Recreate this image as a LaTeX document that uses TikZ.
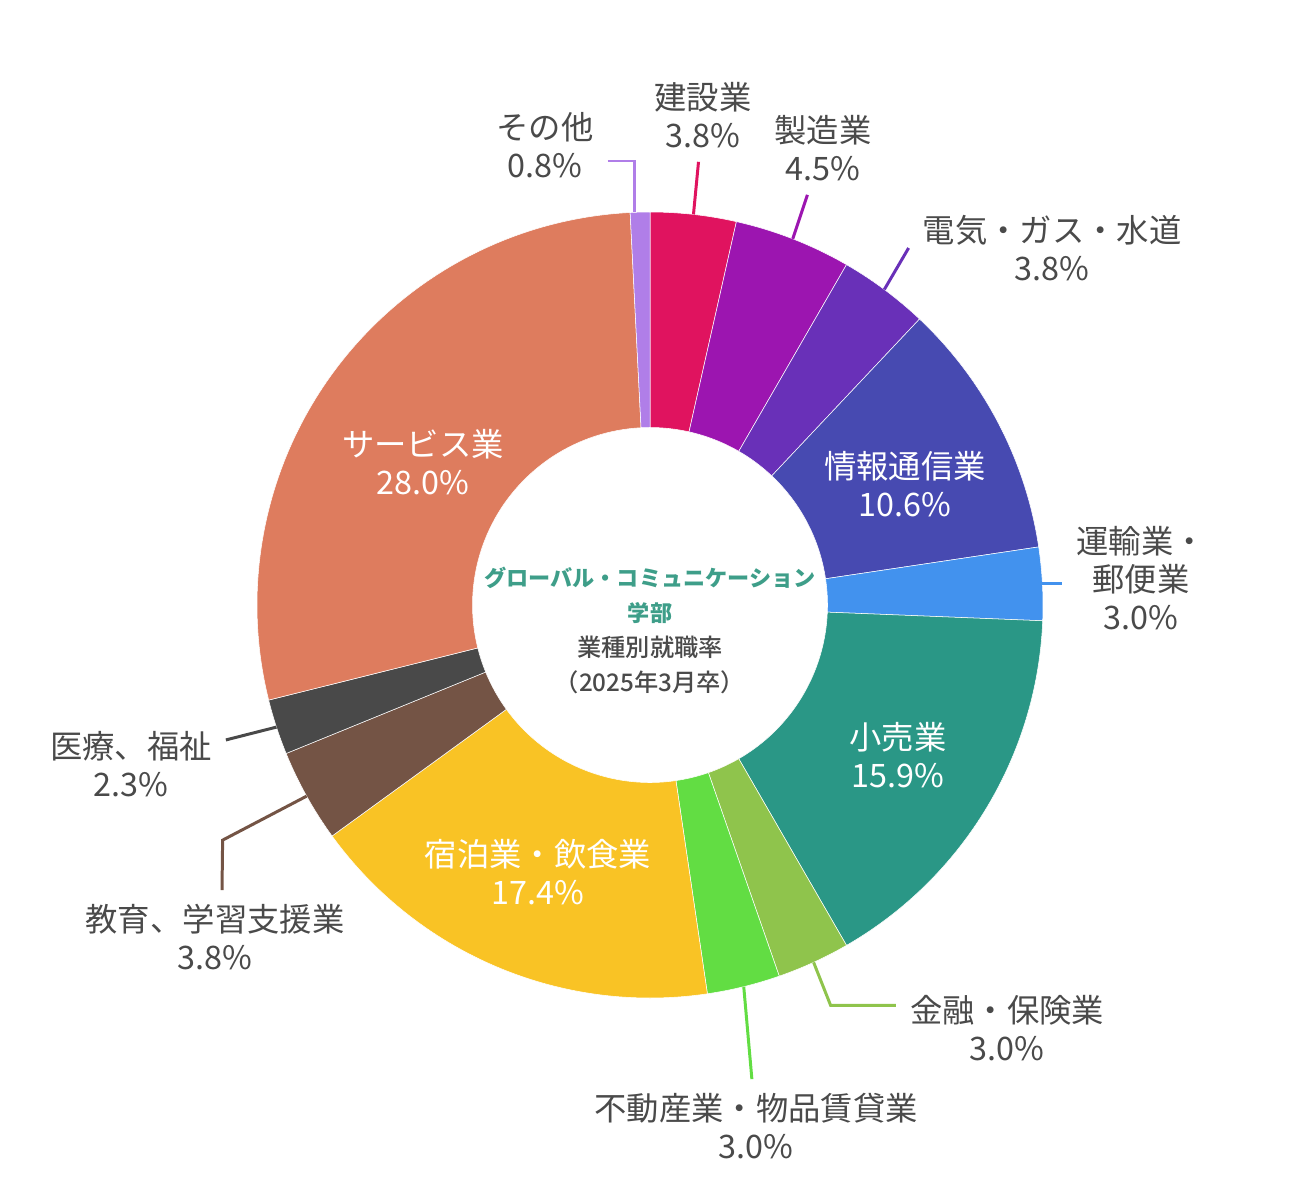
\documentclass[tikz,border=0pt]{standalone}
\usepackage{fontspec}
\setmainfont{Noto Sans CJK JP}
\newfontfamily\medfont{Noto Sans CJK JP Medium}
\usetikzlibrary{calc,positioning}

\definecolor{kensetsu}{HTML}{E0135F}
\definecolor{seizo}{HTML}{9C15B0}
\definecolor{denki}{HTML}{6930B8}
\definecolor{joho}{HTML}{474AB1}
\definecolor{unyu}{HTML}{4292EE}
\definecolor{kouri}{HTML}{2A9786}
\definecolor{kinyu}{HTML}{8FC44C}
\definecolor{fudosan}{HTML}{62DD43}
\definecolor{shukuhaku}{HTML}{F9C325}
\definecolor{kyoiku}{HTML}{745445}
\definecolor{iryo}{HTML}{494949}
\definecolor{service}{HTML}{DE7C5E}
\definecolor{sonota}{HTML}{B07EE8}
\definecolor{labelgray}{HTML}{4A4A4A}
\definecolor{titleteal}{HTML}{3E9E89}

\begin{document}
\begin{tikzpicture}[
lbl/.style={text=labelgray,align=center,font=\fontsize{9.2}{10.8}\selectfont,inner sep=1pt,outer sep=3pt},
inlbl/.style={text=white,align=center,font=\fontsize{9.2}{10.8}\selectfont,inner sep=1pt},
leader/.style={line width=0.85pt}]

        \useasboundingbox (0,0) rectangle (13,12);
        \coordinate (O) at (6.5,5.95);
        \def\R{3.93}
        \def\r{1.775}

        % ring
        \foreach \a/\b/\c in {0/12.7/kensetsu,12.7/30/seizo,30/43.3/denki,43.3/81.5/joho,81.5/92.3/unyu,92.3/150/kouri,150/160.8/kinyu,160.8/171.6/fudosan,171.6/234/shukuhaku,234/247.8/kyoiku,247.8/256/iryo,256/357.1/service,357.1/360/sonota}
            \fill[\c,draw=white,line width=0.15pt] ($(O)+(90-\a:\R)$) arc[start angle=90-\a,end angle=90-\b,radius=\R]
                -- ($(O)+(90-\b:\r)$) arc[start angle=90-\b,end angle=90-\a,radius=\r] -- cycle;

        \foreach \n/\m in {kensetsu/6.35,seizo/21.3,denki/36.6,unyu/86.9,kinyu/155.4,fudosan/166.2,kyoiku/240.9,iryo/251.9,sonota/357.8}
            \coordinate (p-\n) at ($(O)+(90-\m:\R)$);

        % centre
        \node [align=center,text=titleteal,font=\fontsize{6.3}{10}\selectfont\bfseries,inner sep=0pt] (title) at (6.5,6.05) {グローバル・コミュニケーション\\学部};
        \node [align=center,text=labelgray,font=\medfont\fontsize{6.9}{10}\selectfont,inner sep=0pt] (sub) at (6.5,5.35) {業種別就職率\\（2025年3月卒）};

        % inside
        \node [inlbl] (service-t) at (4.23,7.38) {サービス業\\28.0\%};
        \node [inlbl] (joho-t) at (9.05,7.16) {情報通信業\\10.6\%};
        \node [inlbl] (kouri-t) at (8.98,4.45) {小売業\\15.9\%};
        \node [inlbl] (shukuhaku-t) at (5.38,3.28) {宿泊業・飲食業\\17.4\%};

        % outside
        \node [lbl] (kensetsu) at (7.03,10.85) {建設業\\3.8\%};
        \node [lbl] (seizo) at (8.23,10.52) {製造業\\4.5\%};
        \node [lbl] (denki) at (10.52,9.52) {電気・ガス・水道\\3.8\%};
        \node [lbl] (unyu) at (11.41,6.22) {運輸業・\\郵便業\\3.0\%};
        \node [lbl] (kinyu) at (10.07,1.72) {金融・保険業\\3.0\%};
        \node [lbl] (fudosan) at (7.56,0.74) {不動産業・物品賃貸業\\3.0\%};
        \node [lbl] (kyoiku) at (2.15,2.63) {教育、学習支援業\\3.8\%};
        \node [lbl] (iryo) at (1.31,4.36) {医療、福祉\\2.3\%};
        \node [lbl] (sonota) at (5.45,10.55) {その他\\0.8\%};

        \draw [leader,kensetsu] (p-kensetsu) -- (kensetsu);
        \draw [leader,seizo] (p-seizo) -- (seizo);
        \draw [leader,denki] (p-denki) -- (denki.west);
        \draw [leader,unyu] (p-unyu) -- (p-unyu -| unyu.west);
        \draw [leader,kinyu] (p-kinyu) -- ++(0.17,-0.43) coordinate (kinyu-bend) -- (kinyu-bend -| kinyu.west);
        \draw [leader,fudosan] (p-fudosan) -- (fudosan);
        \draw [leader,kyoiku] (p-kyoiku) -- ++(-0.84,-0.44) -- ([xshift=0.07cm]kyoiku.north);
        \draw [leader,iryo] (p-iryo) -- (iryo);
        \draw [leader,sonota] ([yshift=-0.16cm]sonota.east) -| (p-sonota);
    \end{tikzpicture}
\end{document}
